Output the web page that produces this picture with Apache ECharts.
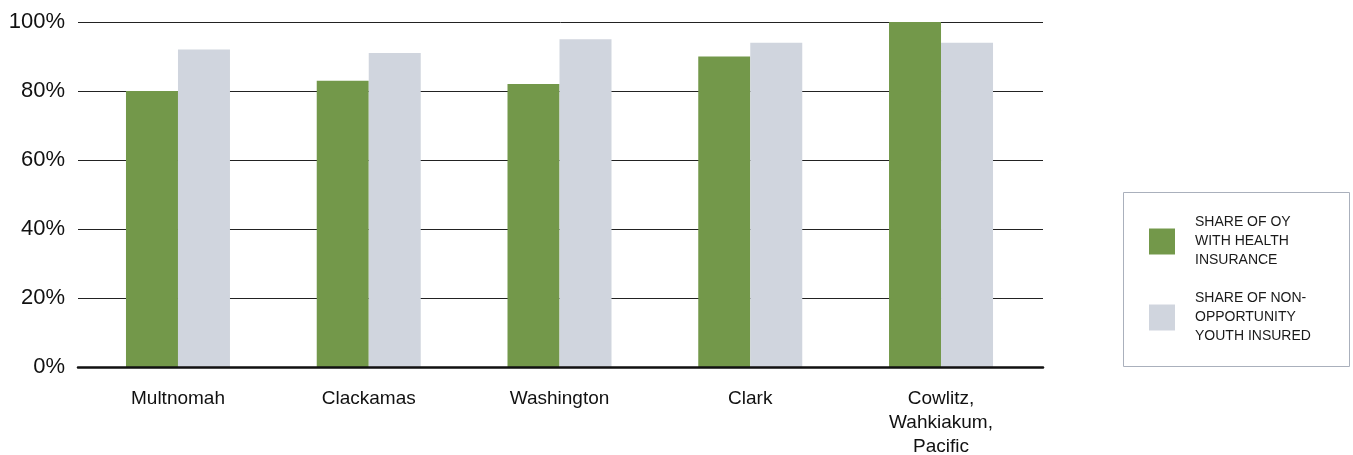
<!DOCTYPE html>
<html>
<head>
<meta charset="utf-8">
<title>Health insurance coverage by county</title>
<script src="https://cdn.jsdelivr.net/npm/echarts@6/dist/echarts.min.js"></script>
<style>
  html, body { margin: 0; padding: 0; background: #ffffff; }
  #chart { width: 1353px; height: 455px; }
</style>
</head>
<body>
<div id="chart"></div>
<script>
// Counties (x-axis categories)
const counties = ['Multnomah', 'Clackamas', 'Washington', 'Clark', 'Cowlitz,\nWahkiakum,\nPacific'];

// Share of opportunity youth with health insurance (%)
const oyInsured = [80, 83, 82, 90, 100];

// Share of non-opportunity youth insured (%)
const nonOyInsured = [92, 91, 95, 94, 94];

// Y-axis ticks (%)
const yTicks = { min: 0, max: 100, step: 20 };

// Series names and their wrapped legend captions
const seriesNames = ['Share of OY with health insurance', 'Share of non-opportunity youth insured'];
const legendCaptions = {
  'Share of OY with health insurance': 'SHARE OF OY\nWITH HEALTH\nINSURANCE',
  'Share of non-opportunity youth insured': 'SHARE OF NON-\nOPPORTUNITY\nYOUTH INSURED'
};

const GREEN = '#73984a';
const GREY = '#d0d5de';
const FONT = "'Liberation Sans', Arial, sans-serif";

const chart = echarts.init(document.getElementById('chart'), null, { renderer: 'canvas' });

chart.setOption({
  backgroundColor: '#ffffff',
  animation: false,
  grid: [
    // gridlines + y labels
    { left: 78, top: 22, width: 965, height: 345, containLabel: false, outerBoundsMode: 'none' },
    // bars + county labels
    { left: 82.6, top: 22, width: 953.8, height: 345, containLabel: false, outerBoundsMode: 'none' }
  ],
  xAxis: [
    {
      gridIndex: 0, type: 'value', min: 0, max: 1, z: 5,
      axisLine: { show: true, lineStyle: { color: '#111111', width: 2.5 } },
      axisTick: { show: false }, axisLabel: { show: false }, splitLine: { show: false }
    },
    {
      gridIndex: 1, type: 'category', data: counties,
      axisLine: { show: false }, axisTick: { show: false },
      axisLabel: {
        margin: 20, fontFamily: FONT, fontSize: 19, lineHeight: 24,
        color: '#111111', align: 'center', interval: 0
      }
    }
  ],
  yAxis: [
    {
      gridIndex: 0, type: 'value', min: yTicks.min, max: yTicks.max, interval: yTicks.step,
      axisLine: { show: false }, axisTick: { show: false },
      axisLabel: {
        margin: 13, fontFamily: FONT, fontSize: 22, color: '#111111',
        formatter: '{value}%'
      },
      splitLine: { show: true, lineStyle: { color: '#222222', width: 1 } }
    },
    {
      gridIndex: 1, type: 'value', min: yTicks.min, max: yTicks.max, interval: yTicks.step,
      show: false, splitLine: { show: false }
    }
  ],
  legend: {
    data: seriesNames,
    orient: 'vertical',
    left: 1149,
    top: 213,
    padding: 0,
    itemWidth: 26,
    itemHeight: 26,
    itemGap: 19,
    icon: 'rect',
    formatter: (name) => legendCaptions[name],
    textStyle: {
      fontFamily: FONT, fontSize: 14, lineHeight: 19, color: '#1a1a1a',
      padding: [0, 0, 0, 15]
    }
  },
  graphic: [
    {
      type: 'rect', silent: true, z: -1,
      shape: { x: 1123.5, y: 192.5, width: 226, height: 174 },
      style: { fill: 'none', stroke: '#aab0bc', lineWidth: 1 }
    }
  ],
  series: [
    {
      name: seriesNames[0], type: 'bar', xAxisIndex: 1, yAxisIndex: 1,
      data: oyInsured, barWidth: 52, barGap: '0%',
      itemStyle: { color: GREEN }, z: 3
    },
    {
      name: seriesNames[1], type: 'bar', xAxisIndex: 1, yAxisIndex: 1,
      data: nonOyInsured, barWidth: 52, barGap: '0%',
      itemStyle: { color: GREY }, z: 3
    }
  ]
});
</script>
</body>
</html>
